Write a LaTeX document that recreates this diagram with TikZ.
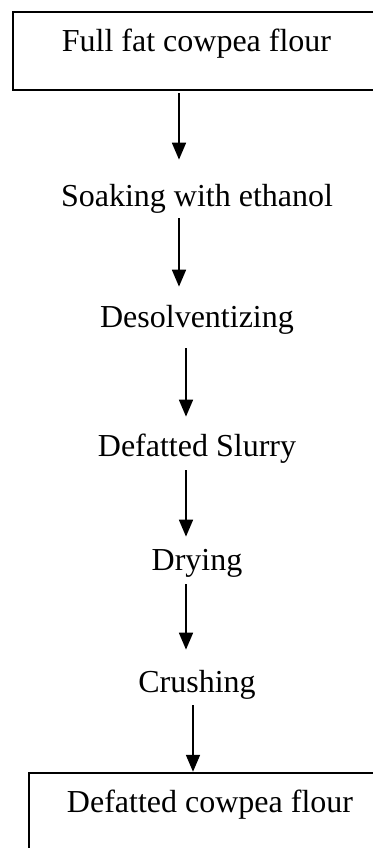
\documentclass[tikz,border=0pt]{standalone}
\usepackage{fontspec}
\setmainfont{Liberation Serif}
\usetikzlibrary{arrows.meta}

\begin{document}
\begin{tikzpicture}[x=0.5pt,y=-0.5pt,font=\fontsize{16}{19}\selectfont,
		box/.style={draw,line width=1.2pt,minimum width=183.5pt,minimum height=39pt,text height=8pt,text depth=8pt,inner sep=0pt},
		stage/.style={anchor=base,inner sep=0pt,text height=10pt,text depth=0pt},
		arr/.style={line width=0.9pt,-{Triangle[length=8.5pt,width=7pt]}}]
		\useasboundingbox (0,0) rectangle (373,848);
		\clip (0,0) rectangle (373,848);
		\node[box] (full) at (196.5,51) {Full fat cowpea flour};
		\node[stage] (soak) at (197,206) {Soaking with ethanol};
		\node[stage] (desolv) at (197,327) {Desolventizing};
		\node[stage] (slurry) at (197,456) {Defatted Slurry};
		\node[stage] (dry) at (197,570) {Drying};
		\node[stage] (crush) at (197,692) {Crushing};
		\node[box,minimum width=181pt] (defat) at (210,812) {Defatted cowpea flour};
		\draw[arr,shorten <=1pt,shorten >=13pt] ([xshift=-8.75pt]full.south) -- ([xshift=-9pt]soak.north);
		\draw[arr,shorten <=6pt,shorten >=10pt] ([xshift=-9pt]soak.south) -- ([xshift=-9pt]desolv.north);
		\draw[arr,shorten <=10.5pt,shorten >=9.5pt] ([xshift=-5.5pt]desolv.south) -- ([xshift=-5.5pt]slurry.north);
		\draw[arr,shorten <=7pt,shorten >=6.5pt] ([xshift=-5.5pt]slurry.south) -- ([xshift=-5.5pt]dry.north);
		\draw[arr,shorten <=7pt,shorten >=11pt] ([xshift=-5.5pt]dry.south) -- ([xshift=-5.5pt]crush.north);
		\draw[arr,shorten <=6.5pt] ([xshift=-2pt]crush.south) -- ([xshift=-8.5pt]defat.north);
\end{tikzpicture}
\end{document}
